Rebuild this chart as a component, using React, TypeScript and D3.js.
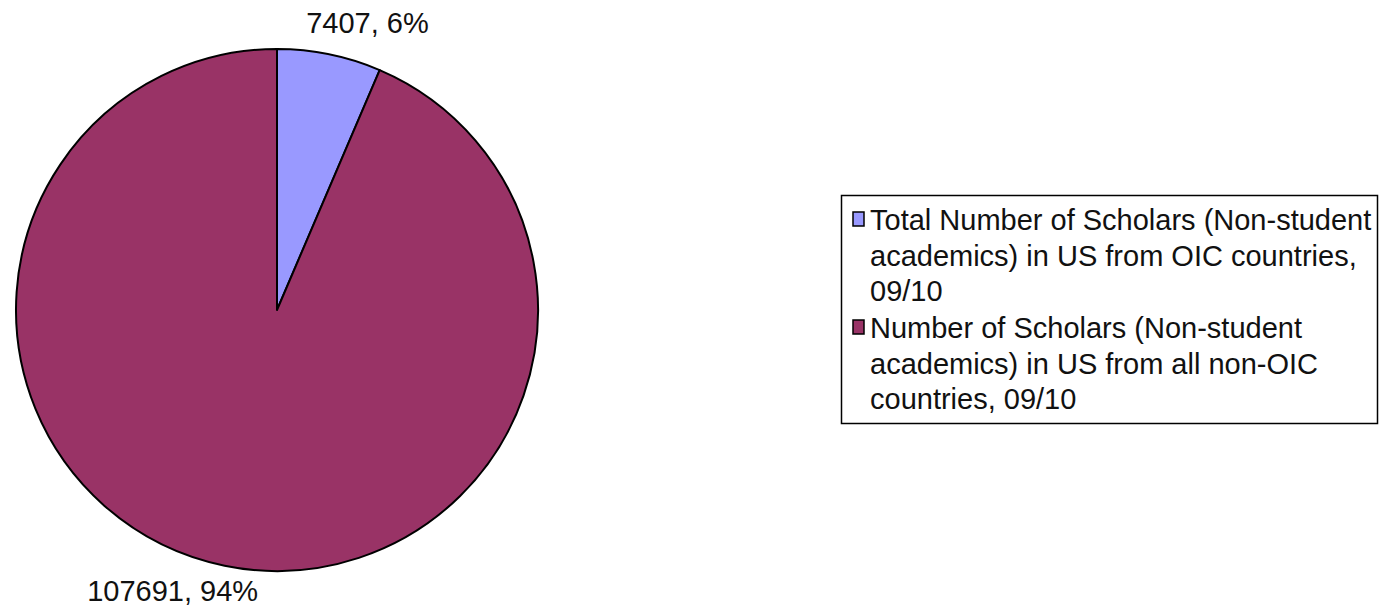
import React from 'react';
import * as d3 from 'd3';

const categories = [
  ['Total Number of Scholars (Non-student', 'academics) in US from OIC countries,', '09/10'],
  ['Number of Scholars (Non-student', 'academics) in US from all non-OIC', 'countries, 09/10'],
];
const values = [7407, 107691];
const percentLabels = ['6%', '94%'];
const colors = ['#9999FF', '#993366'];

const W = 1380;
const H = 611;
const FONT = '"Liberation Sans", Arial, sans-serif';

export default function App() {
  const cx = 277;
  const cy = 310;
  const r = 261;

  const pie = d3.pie<number>().sort(null).value((d) => d);
  const arc = d3.arc<d3.PieArcDatum<number>>().innerRadius(0).outerRadius(r);
  const slices = pie(values);

  // label nudges, roughly like excel's outside-end placement
  const labelNudge = [
    { dx: 38, dy: -21 },
    { dx: -52, dy: 35 },
  ];

  return (
    <svg width={W} height={H} style={{ position: 'absolute', left: 0, top: 0 }}>
      <rect width={W} height={H} fill="#fff" />
      <g transform={`translate(${cx},${cy})`}>
        {slices.map((s, i) => (
          <path key={i} d={arc(s) || ''} fill={colors[i]} stroke="#000" strokeWidth={2} strokeLinejoin="round" />
        ))}
        {slices.map((s, i) => {
          const a = (s.startAngle + s.endAngle) / 2;
          const x = Math.sin(a) * r + labelNudge[i].dx;
          const y = -Math.cos(a) * r + labelNudge[i].dy;
          return (
            <text key={i} x={x} y={y} textAnchor="middle" fontFamily={FONT} fontSize={29} fill="#111">
              {`${values[i]}, ${percentLabels[i]}`}
            </text>
          );
        })}
      </g>
      <g>
        <rect x={841.5} y={195.5} width={536} height={228} fill="#fff" stroke="#000" strokeWidth={1.5} />
        {categories.map((lines, i) => {
          const top = 212 + i * 108;
          return (
            <g key={i}>
              <rect x={853} y={top} width={11} height={14} fill={colors[i]} stroke="#000" strokeWidth={1.5} />
              {lines.map((ln, j) => (
                <text key={j} x={870} y={top + 18 + j * 35.5} fontFamily={FONT} fontSize={29} fill="#111">
                  {ln}
                </text>
              ))}
            </g>
          );
        })}
      </g>
    </svg>
  );
}
